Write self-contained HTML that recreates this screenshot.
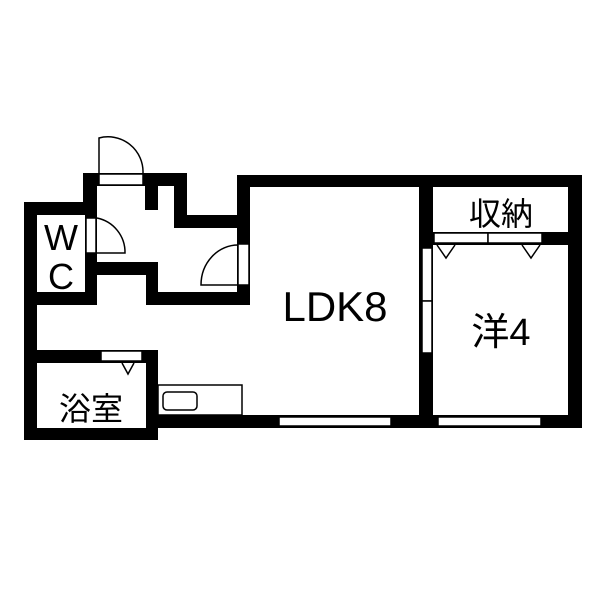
<!DOCTYPE html>
<html><head><style>body{margin:0;background:#fff}svg{display:block}text{font-family:"Liberation Sans","Noto Sans CJK JP",sans-serif;fill:#000}</style></head><body>
<svg width="600" height="600" viewBox="0 0 600 600" xmlns="http://www.w3.org/2000/svg">
<rect width="600" height="600" fill="#fff"/>
<g fill="#000">
<rect x="24" y="202" width="13" height="238"/>
<rect x="24" y="202" width="73" height="13"/>
<rect x="83" y="173" width="14" height="42"/>
<rect x="83" y="173" width="104" height="13"/>
<rect x="145" y="173" width="13" height="37"/>
<rect x="174" y="173" width="13" height="55"/>
<rect x="174" y="215" width="70" height="13"/>
<rect x="237" y="175" width="345" height="12"/>
<rect x="237" y="175" width="13" height="130"/>
<rect x="85" y="202" width="12" height="103"/>
<rect x="24" y="292" width="73" height="13"/>
<rect x="97" y="262" width="61" height="13"/>
<rect x="146" y="262" width="12" height="43"/>
<rect x="146" y="292" width="104" height="13"/>
<rect x="24" y="350" width="134" height="13"/>
<rect x="146" y="350" width="12" height="90"/>
<rect x="24" y="428" width="134" height="12"/>
<rect x="146" y="415" width="436" height="13"/>
<rect x="568" y="175" width="14" height="253"/>
<rect x="419" y="175" width="14" height="253"/>
<rect x="433" y="232" width="135" height="13"/>
</g>
<g fill="#fff" stroke="#000" stroke-width="1.5">
<rect x="99" y="174" width="44" height="11"/>
<rect x="159" y="187" width="14" height="22" stroke="none"/>
<rect x="86" y="218" width="10" height="35"/>
<rect x="238" y="244" width="11" height="41"/>
<rect x="101" y="351" width="41" height="10"/>
<rect x="434" y="233" width="54" height="10"/>
<rect x="488" y="233" width="54" height="10"/>
<rect x="422" y="248" width="10" height="53"/>
<rect x="422" y="301" width="10" height="52"/>
<rect x="279" y="417" width="112" height="9"/>
<rect x="438" y="417" width="103" height="9"/>
<rect x="158" y="385" width="84" height="30"/>
<rect x="163" y="392" width="34" height="18" rx="4"/>
</g>
<g fill="none" stroke="#000" stroke-width="1.5">
<path d="M99 173 V138 A35 35 0 0 1 143 173"/>
<path d="M97 253 H125 A35 35 0 0 0 97 218"/>
<path d="M238 285 H201 A37 40 0 0 1 238 245"/>
<path d="M122 363 L128 374 L134 363"/>
<path d="M437 245 L446 258 L455 245"/>
<path d="M522 245 L531 258 L540 245"/>
</g>
<text x="61" y="250" font-size="36" text-anchor="middle">W</text>
<text x="61" y="289" font-size="36" text-anchor="middle">C</text>
<text x="91" y="420" font-size="32" text-anchor="middle">浴室</text>
<text x="335" y="321" font-size="42" text-anchor="middle">LDK8</text>
<text x="501" y="345" font-size="38" text-anchor="middle">洋4</text>
<text x="501" y="225" font-size="32" text-anchor="middle">収納</text>
</svg>
</body></html>
